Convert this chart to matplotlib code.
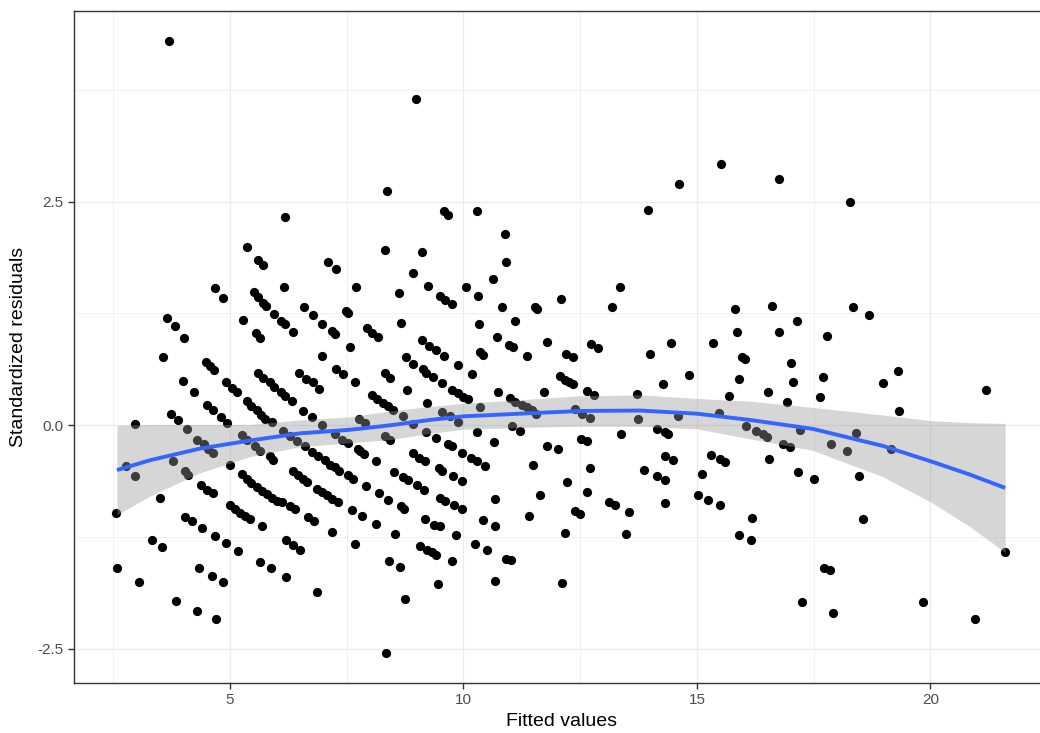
import matplotlib
matplotlib.use("Agg")
import matplotlib.pyplot as plt
import numpy as np

plt.rcParams['font.family'] = ['Liberation Sans', 'DejaVu Sans']

# fitted values / standardized residuals
fitted = [
    3.69, 8.98, 8.37, 15.51, 14.62, 16.75, 18.28, 13.96, 6.18, 9.58, 9.67, 10.30, 10.90, 10.92,
    5.36, 5.61, 5.71, 6.16, 4.68, 4.84, 5.51, 5.61, 5.71, 5.77, 5.95, 6.09, 6.18, 6.36,
    3.66, 3.82, 4.02, 5.28, 5.56, 5.64, 3.56, 4.48, 4.57, 4.65,
    5.61, 5.71, 5.86, 5.95, 6.09, 6.18, 4.00, 4.24, 4.91, 5.04, 5.14,
    5.37, 5.46, 5.57, 5.66, 5.76, 5.89, 4.51, 4.63, 3.73, 3.89, 2.97, 4.81, 4.93,
    4.09, 4.30, 4.44, 4.54, 4.64, 5.25, 5.36, 5.54, 5.64, 5.86, 5.93,
    6.14, 6.28, 6.43, 6.61,
    2.77, 2.97, 3.77, 4.04, 4.11, 4.99,
    5.25, 5.36, 5.46, 5.57, 5.68, 5.79, 5.89, 6.00, 6.11, 6.29, 6.40,
    4.39, 4.51, 4.64, 3.51, 2.57, 5.00, 5.11, 5.21, 5.32, 5.43, 5.68,
    4.04, 4.18, 4.40, 4.68, 4.91, 5.18, 6.20, 6.36, 6.50, 3.34, 3.55,
    2.59, 3.06, 4.34, 4.61, 4.84, 5.64, 5.88, 6.21, 3.84, 4.30, 4.70,
    8.33, 9.12, 7.10, 7.26, 8.91, 10.64, 7.69, 9.24, 10.05, 10.32, 8.61,
    9.50, 9.60, 9.75, 6.59, 6.78, 7.48, 7.53, 10.82,
    6.98, 7.18, 7.25, 8.66, 10.34, 7.93, 8.05, 8.16, 10.71,
    9.12, 9.27, 7.57, 9.42, 9.58, 10.35, 10.42, 6.96, 8.77, 8.91, 9.89,
    7.28, 7.42, 6.48, 6.63, 6.78, 6.91, 8.32, 8.43, 9.13, 9.20, 9.35, 9.55, 10.19,
    7.67, 9.75, 9.89, 10.00, 10.09, 8.80, 10.73, 6.32,
    8.05, 8.15, 8.27, 8.39, 8.50, 9.21, 6.57, 6.75, 8.71, 8.92,
    9.53, 9.71, 9.89, 10.36, 6.98, 7.77, 7.89, 9.20, 10.28,
    7.25, 7.39, 7.53, 7.75, 8.32, 8.43, 9.42, 9.67, 9.75, 10.65,
    9.96, 6.75, 6.89, 7.03, 7.14, 7.25, 7.34, 7.78, 7.87, 8.12,
    8.92, 9.05, 9.18, 10.16, 10.28, 10.46, 6.36, 6.46, 6.57, 6.64,
    7.53, 7.64, 8.51, 8.71, 8.82, 9.47, 9.55, 9.78, 9.96,
    6.86, 6.96, 7.07, 7.18, 7.32, 7.91, 8.20, 8.39,
    9.01, 9.15, 9.50, 9.60, 9.80, 9.96, 10.67, 8.67, 8.73, 7.62, 7.82,
    6.68, 6.80, 8.13, 9.18, 9.37, 9.50, 10.41, 10.67, 7.19, 8.53, 9.83, 7.67,
    9.07, 9.21, 9.32, 9.42, 10.25, 10.50, 8.40, 8.64, 9.76,
    6.87, 9.45, 8.75, 10.67, 8.34,
    13.35, 12.09, 13.19, 11.53, 11.58, 11.11, 10.98, 11.07, 11.78, 11.37, 12.19, 12.34,
    12.74, 12.88, 13.99, 14.45, 15.35, 15.81, 15.85, 15.97, 16.03,
    12.07, 12.17, 12.26, 12.35, 11.72, 12.64, 12.79, 13.71, 14.28, 14.84, 15.90, 15.69,
    11.00, 11.10, 11.25, 11.35, 11.46, 11.56, 12.39, 12.53, 12.71, 13.74, 14.60, 15.48,
    16.05, 16.26, 11.03, 11.20, 11.78, 12.03, 12.51, 12.65, 13.37, 14.15, 14.31, 14.38,
    11.49, 12.71, 13.86, 14.31, 14.49, 14.15, 14.31, 15.29, 15.49, 15.61, 15.10, 12.21,
    11.64, 12.65, 13.12, 13.24, 14.31, 15.03, 15.24, 15.49, 13.55, 12.39, 12.49, 11.41,
    12.18, 13.48, 16.18, 15.90, 16.16, 10.91, 11.02, 12.12,
    16.60, 18.35, 18.69, 17.15, 16.76, 17.79, 17.02, 19.31, 17.69, 17.05, 18.98, 21.18,
    16.53, 17.64, 16.93, 19.32, 16.42, 16.50, 17.21, 18.40, 16.85, 17.00, 17.88, 18.21,
    19.15, 16.55, 17.17, 17.51, 18.47, 18.55, 21.60, 17.71, 17.85, 17.24, 17.92, 19.83, 20.95,
]
std_resid = [
    4.30, 3.65, 2.62, 2.92, 2.70, 2.75, 2.50, 2.41, 2.33, 2.39, 2.35, 2.39, 2.14, 1.83,
    1.99, 1.85, 1.79, 1.54, 1.53, 1.42, 1.49, 1.43, 1.37, 1.33, 1.24, 1.17, 1.13, 1.04,
    1.20, 1.11, 0.98, 1.18, 1.03, 0.98, 0.76, 0.71, 0.66, 0.62,
    0.58, 0.53, 0.48, 0.43, 0.37, 0.33, 0.49, 0.37, 0.48, 0.42, 0.37,
    0.27, 0.22, 0.17, 0.12, 0.07, 0.04, 0.23, 0.17, 0.13, 0.06, 0.02, 0.09, 0.03,
    -0.04, -0.16, -0.21, -0.26, -0.31, -0.11, -0.16, -0.23, -0.29, -0.34, -0.39,
    -0.06, -0.12, -0.18, -0.23,
    -0.46, -0.57, -0.40, -0.51, -0.55, -0.44,
    -0.54, -0.60, -0.64, -0.69, -0.73, -0.77, -0.81, -0.85, -0.86, -0.90, -0.94,
    -0.67, -0.72, -0.76, -0.81, -0.98, -0.89, -0.94, -0.98, -1.01, -1.05, -1.13,
    -1.02, -1.07, -1.15, -1.24, -1.32, -1.40, -1.28, -1.34, -1.39, -1.28, -1.36,
    -1.60, -1.75, -1.60, -1.68, -1.75, -1.53, -1.60, -1.69, -1.96, -2.07, -2.17,
    1.96, 1.94, 1.83, 1.75, 1.70, 1.64, 1.55, 1.56, 1.55, 1.45, 1.48,
    1.45, 1.40, 1.36, 1.32, 1.23, 1.28, 1.26, 1.32,
    1.13, 1.05, 1.02, 1.14, 1.13, 1.09, 1.03, 0.99, 0.99,
    0.95, 0.89, 0.88, 0.84, 0.78, 0.82, 0.79, 0.77, 0.76, 0.69, 0.67,
    0.63, 0.57, 0.59, 0.52, 0.48, 0.41, 0.59, 0.53, 0.63, 0.59, 0.54, 0.47, 0.57,
    0.48, 0.40, 0.36, 0.32, 0.29, 0.40, 0.37, 0.27,
    0.34, 0.29, 0.25, 0.22, 0.17, 0.25, 0.16, 0.09, 0.10, 0.02,
    0.15, 0.10, 0.04, 0.20, 0.00, 0.07, 0.03, -0.07, -0.08,
    -0.10, -0.16, -0.20, -0.26, -0.12, -0.16, -0.14, -0.21, -0.23, -0.19,
    -0.31, -0.30, -0.34, -0.39, -0.44, -0.47, -0.51, -0.29, -0.32, -0.40,
    -0.31, -0.36, -0.40, -0.36, -0.40, -0.45, -0.51, -0.56, -0.60, -0.63,
    -0.56, -0.60, -0.52, -0.58, -0.61, -0.48, -0.51, -0.57, -0.62,
    -0.71, -0.75, -0.78, -0.82, -0.86, -0.68, -0.76, -0.83,
    -0.67, -0.72, -0.81, -0.85, -0.89, -0.94, -0.82, -0.90, -0.93, -0.95, -1.01,
    -1.03, -1.07, -1.10, -1.05, -1.11, -1.13, -1.06, -1.13, -1.19, -1.21, -1.23, -1.33,
    -1.35, -1.39, -1.42, -1.45, -1.33, -1.39, -1.52, -1.58, -1.52,
    -1.86, -1.77, -1.94, -1.74, -2.54,
    1.54, 1.41, 1.32, 1.32, 1.30, 1.16, 0.90, 0.87, 0.93, 0.77, 0.80, 0.76,
    0.91, 0.86, 0.80, 0.92, 0.92, 1.30, 1.04, 0.76, 0.74,
    0.55, 0.51, 0.48, 0.46, 0.37, 0.38, 0.34, 0.35, 0.46, 0.56, 0.52, 0.33,
    0.30, 0.26, 0.23, 0.20, 0.17, 0.13, 0.18, 0.13, 0.08, 0.07, 0.10, 0.14,
    -0.01, -0.06, -0.01, -0.06, -0.23, -0.27, -0.15, -0.18, -0.10, -0.04, -0.08, -0.10,
    -0.44, -0.48, -0.50, -0.34, -0.39, -0.57, -0.61, -0.33, -0.38, -0.41, -0.54, -0.63,
    -0.78, -0.75, -0.86, -0.89, -0.87, -0.78, -0.83, -0.89, -0.97, -0.96, -0.99, -1.01,
    -1.20, -1.22, -1.04, -1.23, -1.28, -1.49, -1.51, -1.76,
    1.33, 1.32, 1.23, 1.17, 1.04, 1.00, 0.70, 0.61, 0.54, 0.48, 0.47, 0.39,
    0.37, 0.32, 0.26, 0.16, -0.10, -0.13, -0.05, -0.09, -0.21, -0.24, -0.21, -0.29,
    -0.26, -0.38, -0.52, -0.60, -0.57, -1.05, -1.42, -1.59, -1.62, -1.98, -2.10, -1.98, -2.17,
]

# loess smooth and its confidence band
smooth_x = [2.58, 3.29, 4.36, 5.43, 6.50, 7.57, 8.43, 9.28, 10.00, 11.21, 12.50,
            13.78, 15.00, 16.13, 17.48, 18.98, 20.05, 20.84, 21.60]
smooth_y = [-0.50, -0.39, -0.26, -0.17, -0.09, -0.05, 0.00, 0.06, 0.10, 0.13, 0.16,
            0.165, 0.13, 0.06, -0.04, -0.23, -0.41, -0.55, -0.70]
smooth_hi = [0.00, 0.01, 0.01, 0.01, 0.06, 0.095, 0.16, 0.21, 0.245, 0.285, 0.33,
             0.34, 0.30, 0.27, 0.20, 0.115, 0.05, 0.03, 0.02]
smooth_lo = [-1.00, -0.79, -0.53, -0.35, -0.24, -0.195, -0.16, -0.09, -0.045, -0.025, -0.01,
             -0.01, -0.04, -0.15, -0.28, -0.575, -0.87, -1.13, -1.42]

fig = plt.figure(figsize=(10.4, 7.33), dpi=100)
ax = fig.add_axes([74 / 1040, 50 / 733, 976 / 1040, 672 / 733])

ax.scatter(fitted, std_resid, s=44, c='black', linewidths=0, zorder=3)
ax.fill_between(smooth_x, smooth_lo, smooth_hi, color='#999999', alpha=0.4,
                linewidth=0, zorder=4)
ax.plot(smooth_x, smooth_y, color='#3366FF', lw=2.8, zorder=5, solid_capstyle='butt')

ax.set_xlim(1.66, 22.56)
ax.set_ylim(-2.88, 4.63)
ax.set_xticks([5, 10, 15, 20])
ax.set_xticks([2.5, 7.5, 12.5, 17.5, 22.5], minor=True)
ax.set_yticks([-2.5, 0, 2.5])
ax.set_yticklabels(['-2.5', '0.0', '2.5'])
ax.set_yticks([-1.25, 1.25, 3.75], minor=True)

ax.grid(which='major', color='#EBEBEB', lw=0.9, zorder=0)
ax.grid(which='minor', color='#EBEBEB', lw=0.5, zorder=0)
ax.set_axisbelow(True)

for sp in ax.spines.values():
    sp.set_color('#333333')
    sp.set_linewidth(1.0)
    sp.set_zorder(6)

ax.tick_params(which='major', length=4.3, width=1.0, color='#333333',
               labelcolor='#4D4D4D', labelsize=11, pad=3)
ax.tick_params(which='minor', length=0)

ax.set_xlabel('Fitted values', fontsize=14, labelpad=4)
ax.set_ylabel('Standardized residuals', fontsize=14, labelpad=8)

fig.savefig('out.png', dpi=100)
